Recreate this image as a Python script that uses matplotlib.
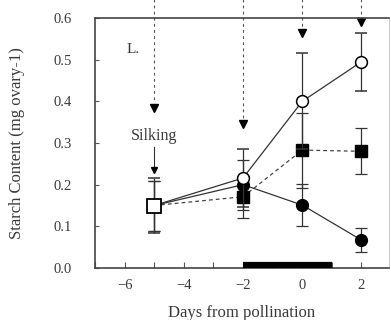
import numpy as np
import matplotlib
matplotlib.use("Agg")
import matplotlib.pyplot as plt

plt.rcParams["font.family"] = ["Liberation Serif", "DejaVu Serif"]

# days from pollination
DAYS = [-5, -2, 0, 2]

# starch content (mg ovary-1) per treatment
OPEN_CIRC = [0.15, 0.216, 0.40, 0.495]
OPEN_CIRC_ERR = [0.065, 0.07, 0.115, 0.07]
FILL_SQ = [0.15, 0.171, 0.283, 0.28]
FILL_SQ_ERR = [0.06, 0.05, 0.09, 0.055]
FILL_CIRC = [0.15, 0.20, 0.151, 0.067]
FILL_CIRC_ERR = [0.06, 0.06, 0.05, 0.028]

# sampling arrows (dashed, from above the frame)
ARROW_X = [-5, -2, 0, 2]
ARROW_TIP = [0.385, 0.345, 0.565, 0.59]

# silking arrow below the label
SILK_X = -5
SILK_FROM, SILK_TO = 0.29, 0.235

# pollination period bar
BAR_START, BAR_END = -2, 1.0

TXT = "#3a3a3a"

fig = plt.figure(figsize=(3.91, 3.2), dpi=100)
ax = fig.add_axes([95 / 391, 1 - 268 / 320, 294 / 391, 250 / 320])

# vertical dashed sampling arrows
for x, tip in zip(ARROW_X, ARROW_TIP):
    ax.plot([x, x], [0.645, tip + 0.01], ls=(0, (2.5, 3)), color="#555555",
            lw=0.8, clip_on=False, zorder=1)
    ax.plot([x], [tip], marker="v", ms=5.5, color="black", clip_on=False, zorder=2)

ax.text(SILK_X, 0.318, "Silking", ha="center", va="center", fontsize=11.5, color=TXT)
ax.plot([SILK_X, SILK_X], [SILK_FROM, SILK_TO], color="#333333", lw=0.8, zorder=1)
ax.plot([SILK_X], [SILK_TO], marker="v", ms=4.5, color="black", zorder=2)

ekw = dict(ecolor="#333333", elinewidth=0.9, capsize=4, capthick=0.9)

ax.errorbar(DAYS, FILL_SQ, yerr=FILL_SQ_ERR, color="#444444",
            ls=(0, (3, 2.5)), lw=0.9, marker="s", ms=9, mfc="black", mec="black",
            zorder=3, **ekw)
ax.errorbar(DAYS, FILL_CIRC, yerr=FILL_CIRC_ERR, color="#333333", ls="-", lw=0.9,
            marker="o", ms=8.5, mfc="black", mec="black", zorder=3, **ekw)
ax.errorbar(DAYS, OPEN_CIRC, yerr=OPEN_CIRC_ERR, color="#333333", ls="-", lw=0.9,
            marker="o", ms=8.5, mfc="white", mec="black", mew=1.1, zorder=4, **ekw)
# common starting point at silking drawn as an open square
ax.plot(DAYS[:1], OPEN_CIRC[:1], ls="none", marker="s", ms=9.5, mfc="white",
        mec="black", mew=1.3, zorder=5)

# pollination bar on the x axis
ax.plot([BAR_START, BAR_END], [0.008, 0.008], color="black", lw=4.5,
        solid_capstyle="butt", zorder=6)

ax.text(-5.95, 0.525, "L.", fontsize=11, color=TXT, ha="left", va="center")

ax.set_xlim(-7, 2.93)
ax.set_ylim(0, 0.6)
ax.set_xticks([-6, -4, -2, 0, 2])
ax.set_xticks(np.arange(-7, 3, 1), minor=True)
ax.set_yticks(np.arange(0, 0.61, 0.1))
ax.set_yticklabels([f"{v:.1f}" for v in np.arange(0, 0.61, 0.1)])
ax.tick_params(axis="y", direction="in", length=3, width=0.8, pad=17,
               labelsize=10.5, labelcolor=TXT, color="#555555")
ax.tick_params(axis="x", which="both", direction="in", length=4, width=0.8, pad=8,
               labelsize=10.5, labelcolor=TXT, color="#555555")
for side in ["left", "top", "bottom"]:
    ax.spines[side].set_linewidth(1.2)
    ax.spines[side].set_color("#444444")
ax.spines["right"].set_color("#cccccc")
ax.spines["right"].set_linewidth(0.7)

ax.set_xlabel("Days from pollination", fontsize=12, color=TXT, labelpad=9)
ax.set_ylabel("Starch Content (mg ovary-1)", fontsize=12, color=TXT, labelpad=20)

fig.savefig("out.png", dpi=100)
